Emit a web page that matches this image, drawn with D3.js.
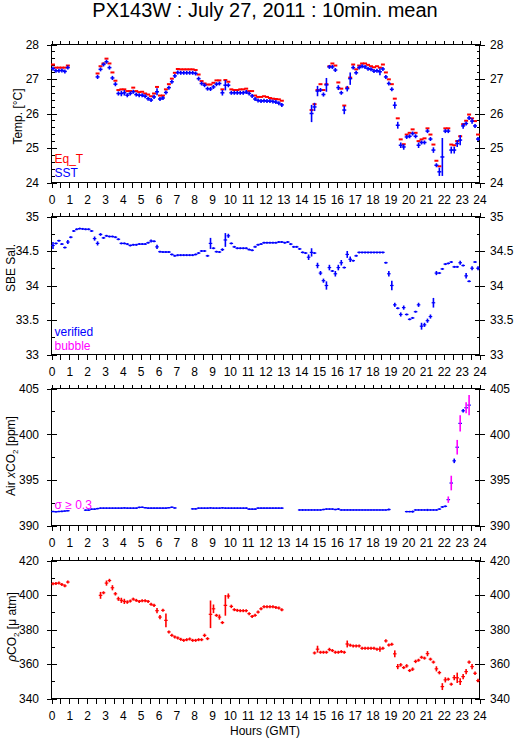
<!DOCTYPE html>
<html><head><meta charset="utf-8">
<script src="https://cdn.jsdelivr.net/npm/d3@7/dist/d3.min.js"></script>
<style>
body{margin:0;background:#fff}
svg{display:block}
text{font-family:"Liberation Sans",Arial,Helvetica,sans-serif}
</style>
</head><body>
<svg id="c" width="515" height="739"></svg>
<script>
// ---------- tick labels ----------
const hourTicks = [0,1,2,3,4,5,6,7,8,9,10,11,12,13,14,15,16,17,18,19,20,21,22,23,24];
const hourLabels = ["0","1","2","3","4","5","6","7","8","9","10","11","12","13","14","15","16","17","18","19","20","21","22","23","24"];
const tempTicks = [24,25,26,27,28];
const tempLabels = ["24","25","26","27","28"];
const salTicks = [33,33.5,34,34.5,35];
const salLabels = ["33","33.5","34","34.5","35"];
const airTicks = [390,395,400,405];
const airLabels = ["390","395","400","405"];
const pco2Ticks = [340,360,380,400,420];
const pco2Labels = ["340","360","380","400","420"];

// ---------- data: 10-min means, slot i = i*10 minutes from 00:00 GMT ----------
const sst = [27.30,27.24,27.24,27.25,27.22,27.33,
 null,null,null,null,null,null,
 null,null,null,27.06,27.28,27.42,
 27.50,27.33,27.03,26.85,26.58,26.58,
 26.60,26.53,26.58,26.63,26.55,26.53,
 26.53,26.50,26.43,26.39,26.48,26.63,
 26.42,26.45,26.61,26.75,26.92,27.09,
 27.19,27.18,27.18,27.18,27.18,27.18,
 27.16,27.01,26.87,26.82,26.72,26.71,
 26.77,26.85,26.87,26.60,26.82,26.82,
 26.60,26.60,26.60,26.60,26.60,26.62,
 26.58,26.51,26.42,26.38,26.36,26.37,
 26.36,26.36,26.35,26.33,26.30,26.25,
 null,null,null,null,null,null,
 null,null,null,26.00,26.19,26.65,
 26.68,26.55,26.83,27.35,27.35,27.26,
 26.75,26.60,26.10,26.72,27.01,27.33,
 27.18,27.33,27.37,27.35,27.30,27.28,
 27.23,27.24,27.21,27.29,27.06,26.87,
 26.70,26.24,25.66,25.08,25.03,25.32,
 25.34,25.42,25.34,25.08,25.16,25.16,
 25.49,25.26,24.94,24.50,24.31,24.74,
 25.49,25.49,24.94,24.94,25.13,25.23,
 25.64,25.71,25.87,25.78,25.64,25.26];
const sstSdDefault = 0.02;
const sstSdLarge = [[0,0.06],[15,0.06],[16,0.05],[17,0.04],[18,0.05],[20,0.06],[21,0.06],[22,0.06],[23,0.08],[24,0.08],[25,0.06],[33,0.06],[34,0.06],[35,0.1],[36,0.05],[40,0.05],[57,0.08],[58,0.15],[59,0.06],[87,0.25],[88,0.12],[89,0.15],[91,0.06],[92,0.2],[96,0.07],[98,0.12],[99,0.08],[100,0.18],[110,0.1],[115,0.1],[116,0.1],[117,0.08],[118,0.08],[123,0.08],[128,0.08],[130,0.12],[131,0.55],[134,0.1],[135,0.1],[136,0.1],[137,0.15],[138,0.08],[141,0.08],[143,0.06]];

const eqT = [27.42,27.33,27.33,27.33,27.33,27.39,
 null,null,null,null,null,null,
 null,null,null,27.16,27.37,27.45,
 27.59,27.45,27.19,26.95,26.68,26.70,
 26.70,26.65,26.65,26.75,26.65,26.62,
 26.63,26.58,26.55,26.50,26.58,26.77,
 26.52,26.52,26.70,26.85,27.01,27.18,
 27.29,27.28,27.28,27.28,27.28,27.28,
 27.26,27.13,26.94,26.87,26.84,26.84,
 26.89,26.96,26.96,26.70,26.97,26.92,
 26.70,26.68,26.68,26.70,26.70,26.72,
 26.65,26.65,26.52,26.48,26.48,26.50,
 26.48,26.45,26.43,26.42,26.41,26.37,
 null,null,null,null,null,null,
 null,null,null,26.10,26.27,26.68,
 26.85,26.68,26.85,27.37,27.45,27.39,
 26.90,26.72,26.23,26.75,27.04,27.42,
 27.28,27.39,27.45,27.45,27.41,27.37,
 27.34,27.37,27.33,27.42,27.19,26.99,
 26.85,26.43,25.86,25.25,25.11,25.39,
 25.44,25.54,25.44,25.20,25.25,25.28,
 25.57,25.39,25.10,24.63,24.47,null,
 25.57,25.57,25.10,25.08,25.20,25.34,
 25.69,25.79,25.97,25.86,25.78,25.39];

const sal = [34.58,34.61,34.65,34.60,34.55,34.63,
 34.70,34.79,34.815,34.825,34.82,34.815,
 34.815,34.79,34.68,34.61,34.74,34.69,
 34.72,34.71,34.71,34.70,34.67,34.61,
 34.61,34.60,34.58,34.59,34.59,34.60,
 34.60,34.60,34.62,34.645,34.64,34.56,
 34.49,34.485,34.485,34.485,34.45,34.43,
 34.44,34.44,34.44,34.44,34.44,34.44,
 34.45,34.47,34.50,34.50,34.43,34.61,
 34.54,34.49,34.485,34.52,34.66,34.72,
 34.61,34.56,34.54,34.54,34.54,34.54,
 34.52,34.51,34.56,34.59,34.60,34.62,
 34.62,34.62,34.62,34.62,34.63,34.63,
 34.62,34.63,34.60,34.56,34.56,34.53,
 34.48,34.47,34.41,34.48,34.47,34.29,
 34.18,34.07,34.00,34.26,34.21,34.17,
 34.26,34.33,34.26,34.45,34.38,34.36,
 34.43,34.48,34.48,34.48,34.48,34.48,
 34.48,34.48,34.48,34.48,34.33,34.17,
 34.00,33.72,33.67,33.58,33.68,33.58,
 33.51,33.53,33.62,33.72,33.41,33.43,
 33.49,33.55,33.75,34.18,34.18,34.24,
 34.31,34.32,34.34,34.27,34.27,34.33,
 34.29,34.14,34.06,34.25,34.34,34.25];
const salSdDefault = 0.008;
const salSdLarge = [[0,0.05],[5,0.03],[14,0.03],[15,0.03],[16,0.02],[33,0.02],[35,0.03],[53,0.08],[57,0.02],[58,0.1],[59,0.03],[86,0.04],[87,0.06],[89,0.04],[90,0.03],[91,0.03],[92,0.06],[93,0.04],[95,0.04],[96,0.04],[97,0.04],[99,0.05],[100,0.04],[113,0.04],[114,0.07],[115,0.03],[117,0.03],[118,0.03],[123,0.03],[124,0.05],[125,0.03],[126,0.03],[127,0.03],[128,0.07],[129,0.03],[137,0.03],[139,0.04],[141,0.03],[143,0.03]];

const air = [391.53,391.50,391.53,391.55,391.58,391.62,
 null,null,null,null,null,391.68,
 391.68,391.79,391.79,391.85,391.90,391.90,
 391.90,391.90,391.90,391.90,391.90,391.90,
 391.92,391.90,391.90,391.90,391.90,391.98,
 392.00,391.95,391.90,391.90,391.90,391.90,
 391.90,391.90,391.90,391.95,392.00,391.92,
 null,null,null,null,null,391.82,
 391.82,391.90,391.90,391.90,391.90,391.92,
 391.90,391.90,391.90,391.93,391.90,391.90,
 391.90,391.90,391.90,391.90,391.90,391.90,
 391.79,391.79,391.79,391.90,391.90,391.90,
 391.90,391.90,391.90,391.90,391.90,391.90,
 null,null,null,null,null,391.70,
 391.70,391.70,391.70,391.70,391.70,391.70,
 391.70,391.75,391.80,391.80,391.80,391.75,
 391.80,391.70,391.70,391.70,391.70,391.70,
 391.70,391.70,391.70,391.70,391.70,391.70,
 391.70,391.70,391.70,391.70,391.70,391.75,
 null,null,null,null,null,391.52,
 391.52,391.52,391.70,391.70,391.70,391.70,
 391.70,391.70,391.70,391.70,391.80,392.03,
 392.10,392.83,394.65,397.08,398.57,401.18,
 402.56,402.89,403.18,null,null,null];
const airSdDefault = 0.04;
const airSdLarge = [[84,0.1],[92,0.08],[96,0.1],[113,0.1],[121,0.12],[126,0.12],[131,0.1],[132,0.1],[133,0.35],[134,0.8],[135,0.25],[136,0.8],[137,0.9],[138,0.2],[139,0.6],[140,1.1]];
const airSigmaFlag = 0.3;

const pco2 = [406.5,406.7,406.9,406.1,405.3,407.5,
 null,null,null,null,null,null,
 null,null,null,null,399.8,401.3,
 406.9,408.4,404.2,400.7,397.8,396.9,
 396.3,395.9,396.5,397.6,396.9,396.3,
 396.7,396.7,396.3,394.6,394.0,390.9,
 387.2,391.1,385.3,378.6,376.6,375.7,
 375.1,374.3,373.7,374.1,374.5,373.7,
 373.7,374.1,374.1,376.6,374.7,388.8,
 392.0,388.2,387.2,384.0,394.0,399.4,
 393.4,391.5,391.1,390.9,390.9,390.9,
 389.2,387.6,388.2,390.1,392.0,393.2,
 393.2,393.2,393.2,392.8,392.4,391.4,
 null,null,null,null,null,null,
 null,null,null,null,366.4,368.6,
 366.8,366.8,366.8,368.4,367.8,366.8,
 366.8,367.2,366.8,371.6,370.9,370.5,
 370.5,370.5,369.1,369.1,369.1,369.1,
 369.1,368.6,368.6,369.1,373.4,371.0,
 371.4,365.9,358.5,359.5,357.9,358.9,
 356.2,357.0,361.5,362.2,363.9,363.4,
 366.0,362.8,361.1,357.2,355.0,346.9,
 350.8,351.2,348.3,352.1,352.0,349.8,
 352.7,355.6,361.1,358.5,354.6,350.4];
const pco2SdDefault = 0.4;
const pco2SdLarge = [[16,2],[18,1.5],[19,1],[20,1.5],[21,1],[22,1.2],[23,1.5],[24,1.5],[25,1],[28,0.8],[33,0.8],[34,1],[35,1.5],[36,1.2],[37,0.8],[38,4],[51,1],[53,8],[54,2.5],[56,1.5],[58,6],[59,1.5],[60,1],[89,2],[93,1],[99,2],[110,1.5],[112,1],[115,2],[116,1.5],[117,1],[119,1],[121,1],[122,1],[126,1.5],[129,1.5],[130,1],[131,2],[132,1.5],[135,1.5],[136,3],[137,2],[138,1.5],[139,1.5],[140,1],[141,1.5],[142,1],[143,1]];

// ---------- drawing ----------
const BLUE = "#0000ff", RED = "#ff0000", MAG = "#ff00ff";
const svg = d3.select("#c");
svg.append("rect").attr("width",515).attr("height",739).attr("fill","#fff");

const x = d3.scaleLinear().domain([0,24]).range([51.5,479.5]);
const halfHours = d3.range(0, 24.001, 0.5);

svg.append("text").attr("x",265).attr("y",17).attr("text-anchor","middle")
  .attr("font-size",20).text("PX143W : July 27, 2011 : 10min. mean");

function sdArray(def, large){
  const a = new Array(144).fill(def);
  large.forEach(([i,s]) => { a[i] = s; });
  return a;
}

function styleAxis(g){
  g.select(".domain").remove();
  g.selectAll("line").attr("stroke","#000").attr("shape-rendering","crispEdges");
  g.selectAll("text").attr("fill","#000").attr("font-size",12)
    .attr("font-family",'"Liberation Sans",Arial,Helvetica,sans-serif');
  g.attr("font-family",null).attr("font-size",null);
}

function panel(cfg){
  const y = d3.scaleLinear().domain(cfg.domain).range([cfg.bottom, cfg.top]);
  const g = svg.append("g");
  const minors = d3.range(cfg.domain[0], cfg.domain[1]+1e-9, cfg.minorStep)
     .filter(v => !cfg.ticks.some(t => Math.abs(t-v) < 1e-6));
  // left axis
  g.append("g").attr("transform",`translate(${x(0)},0)`)
    .call(d3.axisLeft(y).tickValues(cfg.ticks).tickSize(5).tickPadding(7.5)
      .tickFormat((d,i)=>cfg.labels[i])).call(styleAxis);
  g.append("g").attr("transform",`translate(${x(0)},0)`)
    .call(d3.axisRight(y).tickValues(cfg.ticks).tickSize(5).tickFormat(()=>"")).call(styleAxis);
  g.append("g").attr("transform",`translate(${x(0)},0)`)
    .call(d3.axisRight(y).tickValues(minors).tickSize(3).tickFormat(()=>"")).call(styleAxis);
  // right axis
  g.append("g").attr("transform",`translate(${x(24)},0)`)
    .call(d3.axisRight(y).tickValues(cfg.ticks).tickSize(5).tickPadding(5.5)
      .tickFormat((d,i)=>cfg.labels[i])).call(styleAxis);
  g.append("g").attr("transform",`translate(${x(24)},0)`)
    .call(d3.axisLeft(y).tickValues(cfg.ticks).tickSize(5).tickFormat(()=>"")).call(styleAxis);
  g.append("g").attr("transform",`translate(${x(24)},0)`)
    .call(d3.axisLeft(y).tickValues(minors).tickSize(3).tickFormat(()=>"")).call(styleAxis);
  // top / bottom
  g.append("g").attr("transform",`translate(0,${cfg.top})`)
    .call(d3.axisTop(x).tickValues(halfHours).tickSize(4).tickFormat(()=>"")).call(styleAxis);
  g.append("g").attr("transform",`translate(0,${cfg.bottom})`)
    .call(d3.axisBottom(x).tickValues(halfHours).tickSize(5).tickFormat(()=>"")).call(styleAxis);
  g.append("g").attr("transform",`translate(0,${cfg.bottom})`)
    .call(d3.axisBottom(x).tickValues(hourTicks).tickSize(0).tickPadding(13)
      .tickFormat((d,i)=>hourLabels[i])).call(styleAxis);
  // frame
  g.append("rect").attr("x",x(0)).attr("y",cfg.top).attr("width",x(24)-x(0))
    .attr("height",cfg.bottom-cfg.top).attr("fill","none").attr("stroke","#000")
    .attr("shape-rendering","crispEdges");
  // y title
  const t = g.append("text").attr("transform",`translate(${cfg.labelX},${cfg.labelY}) rotate(-90)`)
    .attr("text-anchor","middle").attr("font-size",12);
  cfg.title(t);
  return {g, y};
}

function series(g, y, vals, sds, opt){
  const pts = vals.map((v,i)=>({t:i/6, v, sd: sds ? sds[i] : 0})).filter(d => d.v != null);
  const sg = g.append("g");
  sg.selectAll("line.h").data(pts).join("line").attr("class","h")
    .attr("x1", d => x(d.t) - (opt.hExt||0)).attr("x2", d => x(d.t+1/6) + (opt.hExt||0))
    .attr("y1", d => y(d.v)).attr("y2", d => y(d.v))
    .attr("stroke", opt.color).attr("stroke-width", opt.hWidth);
  if (sds){
    sg.selectAll("line.v").data(pts).join("line").attr("class","v")
      .attr("x1", d => x(d.t+1/12)).attr("x2", d => x(d.t+1/12))
      .attr("y1", d => Math.min(y(d.v + d.sd), y(d.v) - (opt.vMin||0)))
      .attr("y2", d => Math.max(y(d.v - d.sd), y(d.v) + (opt.vMin||0)))
      .attr("stroke", d => opt.vColor ? opt.vColor(d) : opt.color)
      .attr("stroke-width", opt.vWidth);
  }
}

function legend(g, items){
  items.forEach(it => g.append("text").attr("x",54.5).attr("y",it.y)
    .attr("font-size",12).attr("fill",it.color).text(it.text));
}

// Panel 1: temperature
const p1 = panel({top:44.5,bottom:182.5,domain:[24,28],ticks:tempTicks,labels:tempLabels,minorStep:0.2,labelX:21.5,labelY:116.5,
  title: t => t.text("Temp. [°C]")});
series(p1.g, p1.y, eqT, null, {color:RED, hWidth:2, hExt:0.5});
series(p1.g, p1.y, sst, sdArray(sstSdDefault, sstSdLarge), {color:BLUE, hWidth:1.5, hExt:0.5, vWidth:1.6, vMin:2});
legend(p1.g, [{text:"Eq_T", color:RED, y:162.5},{text:"SST", color:BLUE, y:176.5}]);

// Panel 2: salinity
const p2 = panel({top:216.5,bottom:354.5,domain:[33,35],ticks:salTicks,labels:salLabels,minorStep:0.25,labelX:15,labelY:268,
  title: t => t.text("SBE Sal.")});
series(p2.g, p2.y, sal, sdArray(salSdDefault, salSdLarge), {color:BLUE, hWidth:1.2, hExt:0.3, vWidth:1.6, vMin:1});
legend(p2.g, [{text:"verified", color:BLUE, y:336},{text:"bubble", color:MAG, y:349.5}]);

// Panel 3: air xCO2
const p3 = panel({top:388.5,bottom:525.5,domain:[390,405],ticks:airTicks,labels:airLabels,minorStep:2.5,labelX:14.5,labelY:456,
  title: t => { t.append("tspan").text("Air ");
    t.append("tspan").attr("font-style","italic").text("x");
    t.append("tspan").text("CO");
    t.append("tspan").attr("font-size",8).attr("dy",3).text("2");
    t.append("tspan").attr("dy",-3).text(" [ppm]"); }});
series(p3.g, p3.y, air, sdArray(airSdDefault, airSdLarge), {color:BLUE, hWidth:1.2, hExt:0.3, vWidth:1.6, vMin:0.8,
  vColor: d => d.sd >= airSigmaFlag ? MAG : BLUE});
legend(p3.g, [{text:"σ ≥ 0.3", color:MAG, y:508.5}]);

// Panel 4: pCO2
const p4 = panel({top:560.5,bottom:698.5,domain:[340,420],ticks:pco2Ticks,labels:pco2Labels,minorStep:10,labelX:15.5,labelY:627,
  title: t => { t.append("tspan").attr("font-style","italic").text("ρ");
    t.append("tspan").text("CO");
    t.append("tspan").attr("font-size",8).attr("dy",3).text("2");
    t.append("tspan").attr("dy",-3).text(" [μ atm]"); }});
series(p4.g, p4.y, pco2, sdArray(pco2SdDefault, pco2SdLarge), {color:RED, hWidth:1.2, hExt:0.3, vWidth:1.6, vMin:1.5});

svg.append("text").attr("x",265).attr("y",735).attr("text-anchor","middle")
  .attr("font-size",12).text("Hours (GMT)");
</script>
</body></html>
